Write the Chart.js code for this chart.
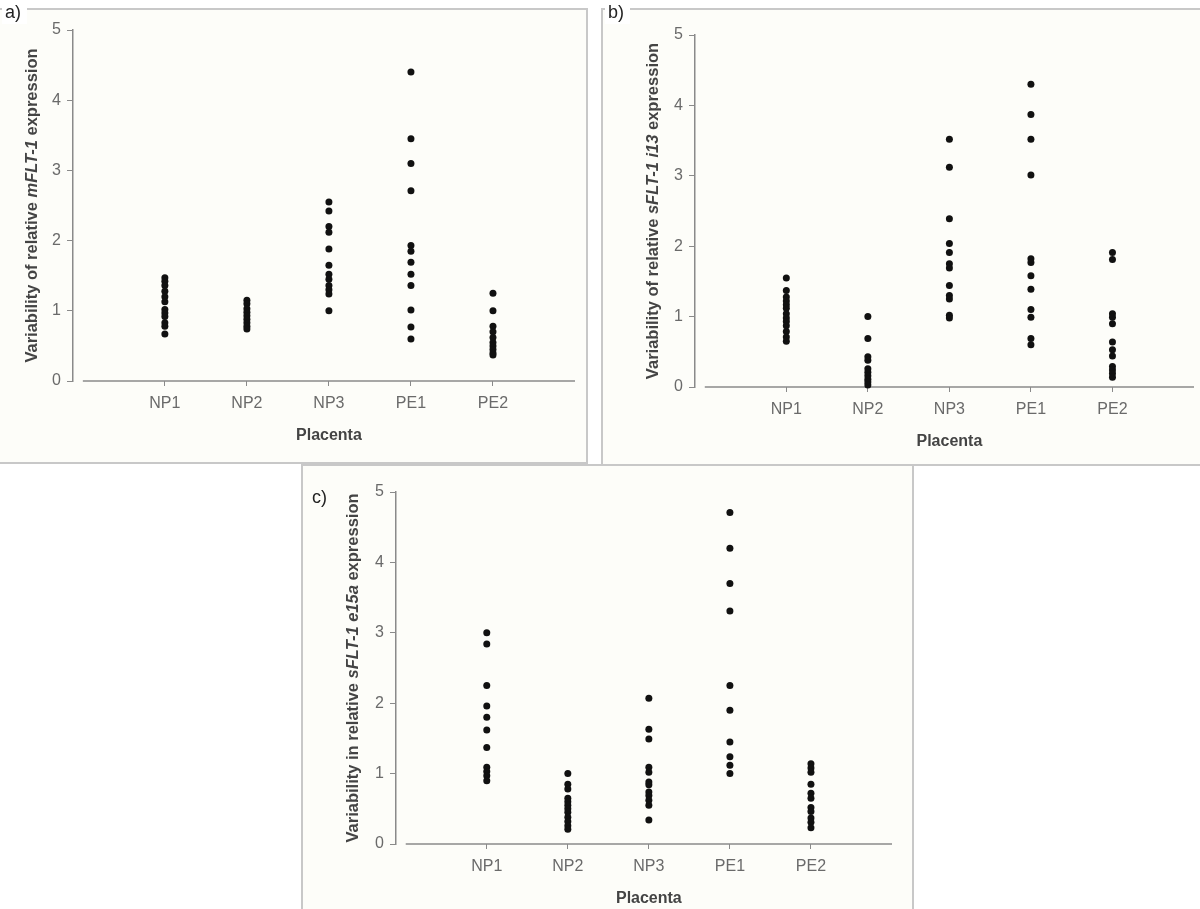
<!DOCTYPE html>
<html>
<head>
<meta charset="utf-8">
<script src="https://cdn.jsdelivr.net/npm/chart.js@4.4.1/dist/chart.umd.min.js"></script>
<style>
body { margin:0; background:#fff; width:1200px; height:909px; overflow:hidden; position:relative; }
.frame { position:absolute; border:2px solid #c8c8c8; background:#fdfdf9; box-sizing:border-box; }
canvas { position:absolute; }
</style>
</head>
<body>
<div class="frame" style="left:-2px;top:8px;width:590px;height:456px"></div>
<div class="frame" style="left:601px;top:8px;width:601px;height:458px"></div>
<div class="frame" style="left:301px;top:464px;width:613px;height:447px"></div>
<canvas id="chartA" width="587" height="463" style="left:0;top:0"></canvas>
<canvas id="chartB" width="598" height="465" style="left:602px;top:0"></canvas>
<canvas id="chartC" width="611" height="444" style="left:302px;top:465px"></canvas>
<script>
const family = '"Liberation Sans", Arial, sans-serif';
const categories = ['NP1', 'NP2', 'NP3', 'PE1', 'PE2'];
const yTicks = [0, 1, 2, 3, 4, 5];
const xTitle = 'Placenta';

// one list per placenta
const valuesA = [
   [1.47, 1.42, 1.36, 1.28, 1.20, 1.13, 1.02, 0.97, 0.92, 0.83, 0.78, 0.67],
   [1.15, 1.10, 1.03, 0.98, 0.93, 0.88, 0.83, 0.78, 0.74],
   [2.55, 2.42, 2.20, 2.12, 1.88, 1.65, 1.52, 1.45, 1.36, 1.30, 1.24, 1.00],
   [4.40, 3.45, 3.10, 2.71, 1.93, 1.85, 1.69, 1.52, 1.36, 1.01, 0.77, 0.60],
   [1.25, 1.00, 0.78, 0.70, 0.62, 0.55, 0.50, 0.45, 0.40, 0.37]
];
const valuesB = [
   [1.55, 1.37, 1.28, 1.22, 1.17, 1.12, 1.04, 0.98, 0.93, 0.87, 0.79, 0.71, 0.65],
   [1.00, 0.69, 0.43, 0.38, 0.26, 0.21, 0.16, 0.11, 0.07, 0.03],
   [3.52, 3.12, 2.39, 2.04, 1.91, 1.75, 1.69, 1.44, 1.30, 1.25, 1.02, 0.98],
   [4.30, 3.87, 3.52, 3.01, 1.82, 1.77, 1.58, 1.39, 1.10, 0.99, 0.69, 0.60],
   [1.91, 1.81, 1.04, 0.99, 0.90, 0.64, 0.53, 0.44, 0.29, 0.24, 0.19, 0.14]
];
const valuesC = [
   [3.00, 2.84, 2.25, 1.96, 1.80, 1.62, 1.37, 1.09, 1.03, 0.97, 0.90],
   [1.00, 0.85, 0.78, 0.65, 0.60, 0.55, 0.50, 0.45, 0.38, 0.32, 0.26, 0.21],
   [2.07, 1.63, 1.49, 1.09, 1.02, 0.88, 0.84, 0.74, 0.69, 0.62, 0.55, 0.34],
   [4.71, 4.20, 3.70, 3.31, 2.25, 1.90, 1.45, 1.24, 1.12, 1.00],
   [1.14, 1.08, 1.02, 0.85, 0.72, 0.65, 0.52, 0.46, 0.37, 0.31, 0.23]
];

const decor = {
   id: 'decor',
   beforeDatasetsDraw(chart) {
      const {ctx, scales: {x, y}} = chart;
      const y0 = y.getPixelForValue(0);
      ctx.save();
      ctx.strokeStyle = '#8a8a8a';
      ctx.lineWidth = 1.5;
      ctx.beginPath();
      ctx.moveTo(x.getPixelForValue(0), y0);
      ctx.lineTo(x.getPixelForValue(6), y0);
      ctx.stroke();
      ctx.restore();
   },
   afterDraw(chart, args, o) {
      const {ctx, scales: {x, y}} = chart;
      const y0 = y.getPixelForValue(0);
      ctx.save();
      // x title
      ctx.fillStyle = '#444';
      ctx.font = 'bold 16px ' + family;
      ctx.textAlign = 'center';
      ctx.textBaseline = 'middle';
      ctx.fillText(xTitle, x.getPixelForValue(3), y0 + 55);
      // y title, part of it in italics
      ctx.save();
      ctx.translate(o.titleX, (y.top + y.bottom) / 2);
      ctx.rotate(-Math.PI / 2);
      const fonts = o.yTitle.map(p => (p[1] ? 'italic bold ' : 'bold ') + '16.5px ' + family);
      const widths = o.yTitle.map((p, i) => { ctx.font = fonts[i]; return ctx.measureText(p[0]).width; });
      let cx = -widths.reduce((a, b) => a + b, 0) / 2;
      ctx.textAlign = 'left';
      o.yTitle.forEach((p, i) => {
         ctx.font = fonts[i];
         ctx.fillText(p[0], cx, 0);
         cx += widths[i];
      });
      ctx.restore();
      // panel letter
      ctx.font = '18px ' + family;
      ctx.textAlign = 'left';
      if (o.tagBg) {
         ctx.fillStyle = '#fff';
         ctx.fillRect(o.tagX - 3, o.tagY - 11, 25, 22);
      }
      ctx.fillStyle = '#222';
      ctx.fillText(o.tag, o.tagX, o.tagY);
      ctx.restore();
   }
};

function makeChart(id, values, opts) {
   const points = [];
   values.forEach((col, i) => col.forEach(v => points.push({x: i + 1, y: v})));
   return new Chart(document.getElementById(id), {
      type: 'scatter',
      data: {
         datasets: [{
            data: points,
            pointRadius: 3.5,
            pointHoverRadius: 3.5,
            pointBackgroundColor: '#111',
            pointBorderWidth: 0,
            clip: false
         }]
      },
      options: {
         responsive: false,
         animation: false,
         events: [],
         layout: {padding: opts.pad},
         plugins: {
            legend: {display: false},
            tooltip: {enabled: false},
            decor: opts
         },
         scales: {
            x: {
               type: 'linear', min: -0.12, max: 6,
               afterBuildTicks: s => { s.ticks = categories.map((c, i) => ({value: i + 1})); },
               afterFit: s => { s.height = opts.xH; },
               ticks: {
                  callback: v => categories[v - 1] || '',
                  color: '#6a6a6a', font: {size: 16, family: family},
                  padding: 8, autoSkip: false, maxRotation: 0
               },
               grid: {drawOnChartArea: false, tickLength: 5, color: '#8a8a8a'},
               border: {display: false}
            },
            y: {
               min: 0, max: 5,
               afterBuildTicks: s => { s.ticks = yTicks.map(v => ({value: v})); },
               afterFit: s => { s.width = opts.yW; },
               ticks: {color: '#6a6a6a', font: {size: 16, family: family}, padding: 6},
               grid: {drawOnChartArea: false, tickLength: 6, color: '#8a8a8a'},
               border: {display: true, color: '#8a8a8a', width: 1.5}
            }
         }
      },
      plugins: [decor]
   });
}

makeChart('chartA', valuesA, {
   pad: {top: 30, right: 12, left: 0, bottom: 0}, yW: 73, xH: 82,
   titleX: 32, tag: 'a)', tagX: 5, tagY: 13, tagBg: true,
   yTitle: [['Variability of relative ', false], ['mFLT-1', true], [' expression', false]]
});
makeChart('chartB', valuesB, {
   pad: {top: 35, right: 6, left: 0, bottom: 0}, yW: 93, xH: 78,
   titleX: 51, tag: 'b)', tagX: 6, tagY: 13, tagBg: true,
   yTitle: [['Variability of relative ', false], ['sFLT-1 i13', true], [' expression', false]]
});
makeChart('chartC', valuesC, {
   pad: {top: 27, right: 21, left: 0, bottom: 0}, yW: 94, xH: 65,
   titleX: 51, tag: 'c)', tagX: 10, tagY: 33, tagBg: false,
   yTitle: [['Variability in relative ', false], ['sFLT-1 e15a', true], [' expression', false]]
});
</script>
</body>
</html>
